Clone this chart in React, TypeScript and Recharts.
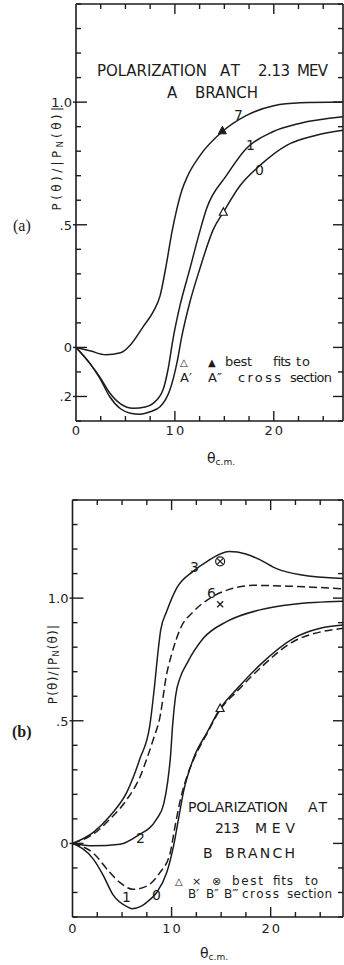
import React from 'react';
import { ComposedChart, Line, Scatter, XAxis, YAxis, ReferenceLine } from 'recharts';

const INK = '#1c1c1c';
const FONT = '"DejaVu Sans", Verdana, sans-serif';

// axis ticks (shared by both panels)
const xTicks = [0, 2.5, 5, 7.5, 10, 12.5, 15, 17.5, 20, 22.5, 25];
const xMajor = [10, 20];
const xLabelled = [0, 10, 20];
const yTicks = [-0.3, -0.2, -0.1, 0, 0.1, 0.2, 0.3, 0.4, 0.5, 0.6, 0.7, 0.8, 0.9, 1, 1.1, 1.2, 1.3, 1.4];
const yLabelsA: Record<string, string> = { '1': '1.0', '0.5': '.5', '0': '0', '-0.2': '.2' };
const yLabelsB: Record<string, string> = { '1': '1.0', '0.5': '.5', '0': '0' };
const yMajorA = [1, 0.5, 0, -0.2];
const yMajorB = [1, 0.5, 0];
const Y_MIN = -0.3;
const Y_MAX = 1.4;

// (a) A branch
const a7X = [0, 1.5, 3, 4.5, 5.5, 6.8, 7.8, 8.5, 9.1, 9.7, 10.2, 10.7, 11.3, 12.5, 14.8, 17.2, 20, 22.7, 27];
const a7Y = [0, -0.015, -0.03, -0.022, 0.01, 0.085, 0.145, 0.21, 0.33, 0.47, 0.565, 0.64, 0.7, 0.78, 0.88, 0.945, 0.985, 0.997, 1.0];
const a1X = [0, 1.4, 2.4, 3.4, 4.5, 5.8, 7, 7.8, 8.8, 9.3, 9.8, 10.5, 11.5, 12.5, 13.2, 15.2, 17.2, 19.9, 22.6, 27];
const a1Y = [0, -0.065, -0.12, -0.185, -0.23, -0.248, -0.243, -0.228, -0.173, -0.091, 0.032, 0.168, 0.318, 0.47, 0.565, 0.7, 0.81, 0.879, 0.913, 0.94];
const a0X = [0, 1.4, 2.4, 3.4, 4.5, 5.5, 6.5, 7.5, 8.5, 9.5, 10.2, 10.7, 11.5, 12.5, 13.9, 14.9, 16.6, 18.6, 21.3, 24.3, 27];
const a0Y = [0, -0.065, -0.125, -0.2, -0.25, -0.268, -0.272, -0.262, -0.242, -0.173, -0.064, 0.045, 0.182, 0.318, 0.482, 0.551, 0.66, 0.742, 0.824, 0.865, 0.885];
const aFitFilledX = [14.8];
const aFitFilledY = [0.883];
const aFitOpenX = [14.9];
const aFitOpenY = [0.551];

// (b) B branch
const b3X = [0, 2.1, 3.8, 5.5, 6.8, 7.8, 8.3, 8.6, 8.9, 9.5, 10.5, 12.2, 13.6, 15.8, 17.5, 18.9, 20.6, 23, 27.3];
const b3Y = [0, 0.045, 0.113, 0.21, 0.345, 0.48, 0.65, 0.77, 0.87, 0.945, 1.04, 1.11, 1.15, 1.19, 1.18, 1.157, 1.12, 1.095, 1.08];
const b6X = [0, 2.1, 3.8, 5.5, 6.8, 7.5, 8.2, 8.8, 9.5, 10.0, 10.9, 12.2, 13.9, 16.2, 18.3, 22.3, 27.3];
const b6Y = [0, 0.038, 0.1, 0.18, 0.27, 0.345, 0.43, 0.51, 0.69, 0.77, 0.877, 0.945, 1.0, 1.04, 1.052, 1.048, 1.038];
const b2X = [0, 2.1, 4.8, 6.5, 8.5, 9.2, 9.6, 9.9, 10.1, 10.4, 10.9, 11.5, 13.2, 15.6, 18.9, 22.3, 27.3];
const b2Y = [0, -0.01, -0.003, 0.03, 0.1, 0.16, 0.25, 0.36, 0.48, 0.6, 0.68, 0.73, 0.836, 0.905, 0.952, 0.975, 0.987];
const b0X = [0, 2.1, 3.1, 4.1, 5.5, 6.0, 7.0, 7.5, 8.5, 9.5, 10.2, 10.7, 11.2, 12.2, 13.6, 14.9, 16.6, 18.9, 22.3, 25, 27.3];
const b0Y = [0, -0.064, -0.13, -0.21, -0.258, -0.266, -0.255, -0.24, -0.2, -0.12, -0.01, 0.1, 0.21, 0.345, 0.454, 0.55, 0.63, 0.727, 0.836, 0.877, 0.89];
const b1X = [0, 2.1, 3.8, 4.8, 6.1, 7.5, 8.8, 9.85, 10.35, 10.9, 11.7, 12.2, 13.6, 14.9, 16.6, 18.9, 22.3, 27.3];
const b1Y = [0, -0.04, -0.12, -0.16, -0.187, -0.174, -0.12, -0.04, 0.07, 0.18, 0.29, 0.34, 0.45, 0.545, 0.62, 0.713, 0.823, 0.877];
const bFitCircleX = [14.9];
const bFitCircleY = [1.15];
const bFitCrossX = [14.9];
const bFitCrossY = [0.975];
const bFitOpenX = [14.9];
const bFitOpenY = [0.55];

const pts = (xs: number[], ys: number[]) => xs.map((x, i) => ({ x, y: ys[i] }));

const openTri = (p: any) => (
  <polygon points={`${p.cx},${p.cy - 4.5} ${p.cx - 4},${p.cy + 3} ${p.cx + 4},${p.cy + 3}`} fill="#fff" stroke={INK} strokeWidth={1.2} />
);
const filledTri = (p: any) => (
  <polygon points={`${p.cx},${p.cy - 4.5} ${p.cx - 4},${p.cy + 3} ${p.cx + 4},${p.cy + 3}`} fill={INK} stroke={INK} strokeWidth={1} />
);
const cross = (p: any) => (
  <g stroke={INK} strokeWidth={1.3}>
    <line x1={p.cx - 3} y1={p.cy - 3} x2={p.cx + 3} y2={p.cy + 3} />
    <line x1={p.cx - 3} y1={p.cy + 3} x2={p.cx + 3} y2={p.cy - 3} />
  </g>
);
const circleCross = (p: any) => (
  <g stroke={INK} strokeWidth={1.2} fill="none">
    <circle cx={p.cx} cy={p.cy} r={4.5} />
    <line x1={p.cx - 3} y1={p.cy - 3} x2={p.cx + 3} y2={p.cy + 3} />
    <line x1={p.cx - 3} y1={p.cy + 3} x2={p.cx + 3} y2={p.cy - 3} />
  </g>
);

type Curve = { data: { x: number; y: number }[]; dashed?: boolean };
type Mark = { data: { x: number; y: number }[]; shape: (p: any) => React.ReactElement };

const curvesA: Curve[] = [{ data: pts(a7X, a7Y) }, { data: pts(a1X, a1Y) }, { data: pts(a0X, a0Y) }];
const marksA: Mark[] = [
  { data: pts(aFitFilledX, aFitFilledY), shape: filledTri },
  { data: pts(aFitOpenX, aFitOpenY), shape: openTri },
];
const curvesB: Curve[] = [
  { data: pts(b3X, b3Y) },
  { data: pts(b6X, b6Y), dashed: true },
  { data: pts(b2X, b2Y) },
  { data: pts(b0X, b0Y) },
  { data: pts(b1X, b1Y), dashed: true },
];
const marksB: Mark[] = [
  { data: pts(bFitCircleX, bFitCircleY), shape: circleCross },
  { data: pts(bFitCrossX, bFitCrossY), shape: cross },
  { data: pts(bFitOpenX, bFitOpenY), shape: openTri },
];

const tickText = { fontFamily: FONT, fontSize: 13, fill: INK };

interface PanelProps {
  top: number;
  height: number;
  margin: { top: number; right: number; bottom: number; left: number };
  xAxisHeight: number;
  xMax: number;
  plotW: number;
  plotH: number;
  curves: Curve[];
  marks: Mark[];
  yLabels: Record<string, string>;
  yMajor: number[];
  xLabelDy: number;
}

function Panel(props: PanelProps) {
  const { top, height, margin, xAxisHeight, xMax, plotW, plotH, curves, marks, yLabels, yMajor, xLabelDy } = props;
  // data units per screen pixel, used to size the inward tick marks
  const dx = xMax / plotW;
  const dy = (Y_MAX - Y_MIN) / plotH;
  const axisLine = { stroke: INK, strokeWidth: 1.6 };
  const seg = (x1: number, y1: number, x2: number, y2: number, key: string) => (
    <ReferenceLine key={key} segment={[{ x: x1, y: y1 }, { x: x2, y: y2 }]} stroke={INK} strokeWidth={1.4} ifOverflow="visible" />
  );
  const xt = xTicks.filter((v) => v > 0);
  return (
    <div style={{ position: 'absolute', left: 0, top }}>
      <ComposedChart width={344} height={height} margin={margin}>
        <XAxis
          type="number" dataKey="x" domain={[0, xMax]} allowDataOverflow ticks={xLabelled} interval={0}
          height={xAxisHeight} tickSize={0} tickMargin={0} tickLine={false} axisLine={axisLine}
          tick={(p: any) => (
            <text x={p.x + 1} y={p.y + xLabelDy} textAnchor="middle" letterSpacing={2} {...tickText}>{p.payload.value}</text>
          )}
        />
        <YAxis
          type="number" dataKey="y" domain={[Y_MIN, Y_MAX]} allowDataOverflow ticks={yMajor} interval={0}
          width={40} tickSize={0} tickMargin={0} tickLine={false} axisLine={axisLine}
          tick={(p: any) => (
            <text x={p.x - 4} y={p.y + 5} textAnchor="end" {...tickText}>{yLabels[String(p.payload.value)] ?? ''}</text>
          )}
        />
        {/* frame: top and right edges */}
        <ReferenceLine y={Y_MAX} stroke={INK} strokeWidth={1.6} ifOverflow="visible" />
        <ReferenceLine x={xMax} stroke={INK} strokeWidth={1.6} ifOverflow="visible" />
        {/* inward tick marks on all four sides */}
        {xt.map((v) => {
          const len = (xMajor.includes(v) ? 10 : 5) * dy;
          return [seg(v, Y_MIN, v, Y_MIN + len, `b${v}`), seg(v, Y_MAX, v, Y_MAX - len, `t${v}`)];
        })}
        {yTicks.map((v) => {
          const major = yMajor.includes(v);
          return [
            seg(major ? -3 * dx : 0, v, (major ? 11 : 5) * dx, v, `l${v}`),
            seg(xMax, v, xMax - (major ? 10 : 5) * dx, v, `r${v}`),
          ];
        })}
        {curves.map((c, i) => (
          <Line
            key={i} data={c.data} dataKey="y" type="monotone" stroke={INK} strokeWidth={1.5}
            strokeDasharray={c.dashed ? '8 4' : undefined} dot={false} activeDot={false} isAnimationActive={false}
          />
        ))}
        {marks.map((m, i) => (
          <Scatter key={i} data={m.data} dataKey="y" shape={m.shape} isAnimationActive={false} />
        ))}
      </ComposedChart>
    </div>
  );
}

function Word({ x, y, s, len, size = 13 }: { x: number; y: number; s: string; len?: number; size?: number }) {
  return (
    <text x={x} y={y} fontSize={size} textLength={len} lengthAdjust={len ? 'spacing' : undefined}>{s}</text>
  );
}

function Annotations() {
  return (
    <svg width={344} height={965} style={{ position: 'absolute', left: 0, top: 0, pointerEvents: 'none' }}>
      <g fontFamily={FONT} fill={INK}>
        {/* panel (a) */}
        <text x={13} y={231} fontFamily='"Liberation Serif", serif' fontSize={16}>(a)</text>
        <text transform="translate(61,157) rotate(-90)" textAnchor="middle" fontSize={12} letterSpacing={3.4}>
          P(θ)/|P<tspan fontSize={8} dy={2}>N</tspan><tspan dy={-2}>(θ)|</tspan>
        </text>
        <Word x={97} y={76} s="POLARIZATION" len={110} size={15} />
        <Word x={220} y={76} s="AT" len={20} size={15} />
        <Word x={258} y={76} s="2.13" len={32} size={15} />
        <Word x={297} y={76} s="MEV" len={31} size={15} />
        <Word x={167} y={98} s="A" size={15} />
        <Word x={195} y={98} s="BRANCH" len={63} size={15} />
        <Word x={234} y={120} s="7" size={14} />
        <Word x={246} y={150} s="1" size={14} />
        <Word x={255} y={175} s="0" size={14} />
        <Word x={180} y={366} s="△" size={10} />
        <Word x={208} y={366} s="▲" size={10} />
        <Word x={225} y={366} s="best" len={27} size={13} />
        <Word x={272} y={366} s="fits" len={18} size={13} />
        <Word x={296} y={366} s="to" len={14} size={13} />
        <Word x={180} y={382} s="A′" size={13} />
        <Word x={208} y={382} s="A″" size={13} />
        <Word x={238} y={382} s="cross" len={43} size={13} />
        <Word x={290} y={382} s="section" len={42} size={13} />
        <text x={207} y={463} fontSize={14}>θ<tspan fontSize={9} dy={2}>c.m.</tspan></text>

        {/* panel (b) */}
        <text x={12} y={737} fontFamily='"Liberation Serif", serif' fontSize={16} fontWeight="bold">(b)</text>
        <text transform="translate(57,664) rotate(-90)" textAnchor="middle" fontSize={12} letterSpacing={1.2}>
          P(θ)/|P<tspan fontSize={8} dy={2}>N</tspan><tspan dy={-2}>(θ)|</tspan>
        </text>
        <Word x={190} y={572} s="3" size={14} />
        <Word x={207} y={598} s="6" size={14} />
        <Word x={136} y={843} s="2" size={14} />
        <Word x={122} y={902} s="1" size={14} />
        <Word x={152} y={900} s="0" size={14} />
        <Word x={188} y={812} s="POLARIZATION" len={100} size={14} />
        <Word x={308} y={812} s="AT" len={19} size={14} />
        <Word x={215} y={833} s="213" len={25} size={14} />
        <Word x={255} y={833} s="MEV" len={40} size={14} />
        <Word x={203} y={858} s="B" size={14} />
        <Word x={225} y={858} s="BRANCH" len={70} size={14} />
        <Word x={175} y={885} s="△" size={10} />
        <Word x={192} y={885} s="×" size={11} />
        <Word x={212} y={885} s="⊗" size={11} />
        <Word x={232} y={885} s="best" len={31} size={12} />
        <Word x={273} y={885} s="fits" len={20} size={12} />
        <Word x={305} y={885} s="to" len={13} size={12} />
        <Word x={188} y={898} s="B′" size={12} />
        <Word x={206} y={898} s="B″" size={12} />
        <Word x={224} y={898} s="B‴" size={12} />
        <Word x={242} y={898} s="cross" len={37} size={12} />
        <Word x={287} y={898} s="section" len={45} size={12} />
        <text x={200} y={958} fontSize={14}>θ<tspan fontSize={9} dy={2}>c.m.</tspan></text>
      </g>
    </svg>
  );
}

export default function App() {
  return (
    <div style={{ position: 'absolute', left: 0, top: 0, width: 344, height: 965, background: '#fff', overflow: 'hidden' }}>
      <Panel
        top={0} height={440} margin={{ top: 4, right: 1, bottom: 0, left: 36 }} xAxisHeight={19} xMax={27}
        plotW={267} plotH={417}
        curves={curvesA} marks={marksA} yLabels={yLabelsA} yMajor={yMajorA} xLabelDy={14}
      />
      <Panel
        top={480} height={485} margin={{ top: 20, right: 1, bottom: 0, left: 32.5 }} xAxisHeight={48} xMax={27.3}
        plotW={270.5} plotH={417}
        curves={curvesB} marks={marksB} yLabels={yLabelsB} yMajor={yMajorB} xLabelDy={16}
      />
      <Annotations />
    </div>
  );
}
